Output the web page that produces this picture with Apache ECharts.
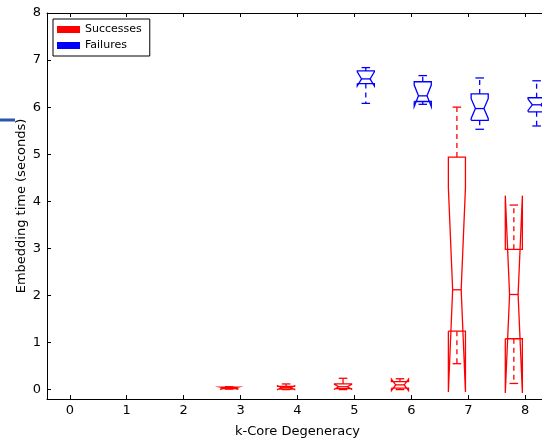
<!DOCTYPE html>
<html>
<head>
<meta charset="utf-8">
<script src="https://cdn.jsdelivr.net/npm/echarts@6/dist/echarts.min.js"></script>
<style>
  html, body { margin: 0; padding: 0; background: #fff; }
  #main { width: 542px; height: 438px; }
</style>
</head>
<body>
<div id="main"></div>
<script>
// 数据
const xTicks = [0, 1, 2, 3, 4, 5, 6, 7, 8];
const yTicks = [0, 1, 2, 3, 4, 5, 6, 7, 8];

// Successes (red)
const succPos       = [3, 4, 5, 6, 7, 8];
const succLow       = [0.01, 0.00, 0.00, 0.00, 0.55, 0.13];
const succQ1        = [0.02, 0.01, 0.02, 0.03, 1.24, 1.08];
const succNotchLow  = [0.01, 0.00, 0.01, -0.02, -0.05, -0.07];
const succMed       = [0.03, 0.04, 0.06, 0.10, 2.12, 2.02];
const succNotchHigh = [0.05, 0.08, 0.11, 0.22, 4.29, 4.12];
const succQ3        = [0.05, 0.07, 0.12, 0.17, 4.94, 2.98];
const succHigh      = [0.06, 0.12, 0.24, 0.23, 6.00, 3.92];

// Failures (blue)
const failPos       = [5, 6, 7, 8];
const failLow       = [6.08, 6.06, 5.53, 5.60];
const failQ1        = [6.50, 6.12, 5.72, 5.90];
const failNotchLow  = [6.45, 6.01, 5.76, 5.93];
const failMed       = [6.60, 6.24, 5.97, 6.05];
const failNotchHigh = [6.75, 6.47, 6.18, 6.17];
const failQ3        = [6.77, 6.54, 6.28, 6.20];
const failHigh      = [6.84, 6.67, 6.62, 6.56];

const BOX_W = 0.3;

function build(pos, shift, lo, q1, nl, md, nh, q3, hi) {
  return pos.map((p, i) => [p + shift, lo[i], q1[i], nl[i], md[i], nh[i], q3[i], hi[i]]);
}

// 画带缺口的箱线
function renderBox(params, api) {
  const x = api.value(0);
  const lo = api.value(1), q1 = api.value(2), nl = api.value(3), md = api.value(4),
    nh = api.value(5), q3 = api.value(6), hi = api.value(7);
  const L = x - BOX_W / 2, R = x + BOX_W / 2, cL = x - BOX_W / 4, cR = x + BOX_W / 4;
  const c = (a, b) => api.coord([a, b]);
  const color = api.visual('color');
  const pts = [
    c(L, q1), c(R, q1), c(R, nl), c(cR, md), c(R, nh), c(R, q3),
    c(L, q3), c(L, nh), c(cL, md), c(L, nl), c(L, q1)
  ];
  const solid = { stroke: color, lineWidth: 1.3, fill: null };
  const dashed = { stroke: color, lineWidth: 1.3, lineDash: [5, 4], fill: null };
  const seg = (a, b, style) => ({
    type: 'line',
    shape: { x1: a[0], y1: a[1], x2: b[0], y2: b[1] },
    style: style
  });
  return {
    type: 'group',
    children: [
      { type: 'polyline', shape: { points: pts }, style: solid },
      seg(c(cL, md), c(cR, md), solid),
      seg(c(x, q1), c(x, lo), dashed),
      seg(c(x, q3), c(x, hi), dashed),
      seg(c(cL, lo), c(cR, lo), solid),
      seg(c(cL, hi), c(cR, hi), solid)
    ]
  };
}

const font = 'DejaVu Sans';

let option = {
  animation: false,
  backgroundColor: '#fff',
  textStyle: { fontFamily: font, color: '#000' },
  grid: { left: 47, right: -6, top: 13, bottom: 39, outerBoundsMode: 'none', containLabel: false },
  legend: {
    orient: 'vertical',
    left: 53,
    top: 19,
    padding: [5, 8, 5, 4],
    itemGap: 5,
    itemWidth: 23,
    itemHeight: 7,
    icon: 'rect',
    borderColor: '#000',
    borderWidth: 1,
    backgroundColor: '#fff',
    textStyle: { fontFamily: font, fontSize: 11, color: '#000' },
    data: [
      { name: 'Successes', itemStyle: { color: '#ff0000' } },
      { name: 'Failures', itemStyle: { color: '#0000ff' } }
    ]
  },
  xAxis: [{
    type: 'value',
    min: -0.4,
    max: 8.4,
    name: 'k-Core Degeneracy',
    nameLocation: 'middle',
    nameGap: 26,
    nameMoveOverlap: false,
    nameTextStyle: { fontSize: 13, fontFamily: font, color: '#000' },
    axisLine: { show: true, onZero: false, lineStyle: { color: '#000', width: 1 } },
    axisTick: { show: true, inside: true, length: 4, customValues: xTicks, lineStyle: { color: '#000' } },
    axisLabel: { customValues: xTicks, fontSize: 13, color: '#000', margin: 5, fontFamily: font },
    splitLine: { show: false }
  }, {
    type: 'value',
    position: 'top',
    min: -0.4,
    max: 8.4,
    axisLine: { show: true, onZero: false, lineStyle: { color: '#000', width: 1 } },
    axisTick: { show: true, inside: true, length: 4, customValues: xTicks, lineStyle: { color: '#000' } },
    axisLabel: { show: false },
    splitLine: { show: false }
  }],
  yAxis: {
    type: 'value',
    min: -0.2,
    max: 8,
    name: 'Embedding time (seconds)',
    nameLocation: 'middle',
    nameGap: 19,
    nameMoveOverlap: false,
    nameTextStyle: { fontSize: 13, fontFamily: font, color: '#000' },
    axisLine: { show: true, onZero: false, lineStyle: { color: '#000', width: 1 } },
    axisTick: { show: true, inside: true, length: 4, customValues: yTicks, lineStyle: { color: '#000' } },
    axisLabel: { customValues: yTicks, fontSize: 13, color: '#000', margin: 6, fontFamily: font },
    splitLine: { show: false }
  },
  series: [{
    name: 'Successes',
    type: 'custom',
    renderItem: renderBox,
    itemStyle: { color: '#ff0000' },
    encode: { x: 0, y: [1, 2, 3, 4, 5, 6, 7] },
    data: build(succPos, -0.2, succLow, succQ1, succNotchLow, succMed, succNotchHigh, succQ3, succHigh)
  }, {
    name: 'Failures',
    type: 'custom',
    renderItem: renderBox,
    itemStyle: { color: '#0000ff' },
    encode: { x: 0, y: [1, 2, 3, 4, 5, 6, 7] },
    data: build(failPos, 0.2, failLow, failQ1, failNotchLow, failMed, failNotchHigh, failQ3, failHigh)
  }],
  graphic: [{
    type: 'line',
    shape: { x1: 0, y1: 120, x2: 15, y2: 120 },
    style: { stroke: '#2b57a6', lineWidth: 3 }
  }]
};

let chart = echarts.init(document.getElementById('main'));
chart.setOption(option);
</script>
</body>
</html>
